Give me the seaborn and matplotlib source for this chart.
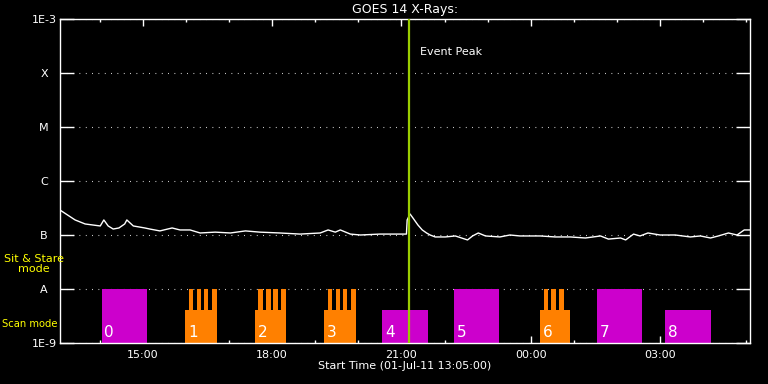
import pandas as pd
import numpy as np
import matplotlib
matplotlib.use("Agg")
import matplotlib.pyplot as plt
import matplotlib.dates as mdates
import seaborn as sns

# GOES 14 long channel flux (W/m^2)
goes_time = ["13:05", "13:26", "13:40", "13:51", "14:01", "14:06", "14:12", "14:19", "14:27",
             "14:35", "14:38", "14:47", "15:03", "15:10", "15:24", "15:41", "15:52", "16:06",
             "16:20", "16:41", "17:02", "17:23", "17:43", "18:11", "18:39", "19:07", "19:18",
             "19:28", "19:35", "19:49", "20:03", "20:30", "20:58", "21:07", "21:08", "21:12",
             "21:16", "21:23", "21:29", "21:35", "21:40", "21:47", "22:01", "22:15", "22:32",
             "22:39", "22:47", "22:57", "23:17", "23:31", "23:45", "23:59", "00:13", "00:34",
             "00:55", "01:16", "01:37", "01:48", "02:05", "02:12", "02:23", "02:32", "02:43",
             "03:00", "03:21", "03:42", "03:56", "04:10", "04:21", "04:35", "04:47", "04:57",
             "05:05"]
goes_flux_e7 = [2.9, 1.9, 1.6, 1.53, 1.47, 1.9, 1.47, 1.29, 1.35,
                1.6, 1.9, 1.47, 1.35, 1.29, 1.19, 1.35, 1.24, 1.24,
                1.09, 1.13, 1.09, 1.19, 1.13, 1.09, 1.04, 1.09, 1.24,
                1.13, 1.24, 1.04, 1.0, 1.04, 1.04, 1.04, 1.9, 2.45,
                2.07, 1.53, 1.24, 1.09, 1.0, 0.92, 0.92, 0.96, 0.81,
                0.96, 1.09, 0.96, 0.92, 1.0, 0.96, 0.96, 0.96, 0.92,
                0.92, 0.88, 0.96, 0.84, 0.88, 0.81, 1.04, 0.96, 1.09,
                1.0, 1.0, 0.92, 0.96, 0.88, 0.96, 1.09, 1.0, 1.24,
                1.24]

# observation blocks
block_start = ["14:03", "15:59", "17:36", "19:12", "20:33", "22:13", "00:13", "01:32", "03:07"]
block_end = ["15:06", "16:43", "18:20", "19:57", "21:37", "23:16", "00:55", "02:35", "04:11"]
block_top = [1e-8, 4.1e-9, 4.1e-9, 4.1e-9, 4.1e-9, 1e-8, 4.1e-9, 1e-8, 4.1e-9]
block_kind = ["magenta", "orange", "orange", "orange", "magenta", "magenta", "orange", "magenta", "magenta"]

# sit & stare slots inside the orange blocks
prong_start = ["16:05", "16:15", "16:25", "16:36",
               "17:41", "17:52", "18:02", "18:13",
               "19:18", "19:29", "19:39", "19:50",
               "00:19", "00:28", "00:39"]
prong_end = ["16:10", "16:21", "16:31", "16:43",
             "17:47", "17:58", "18:08", "18:20",
             "19:24", "19:35", "19:45", "19:57",
             "00:24", "00:35", "00:46"]

start_time = pd.Timestamp("2011-07-01 13:05")
end_time = pd.Timestamp("2011-07-02 05:05")
peak_time = "21:11"

colors = {"magenta": "#cc00cc", "orange": "#ff8000"}


def to_ts(hhmm):
    t = pd.Timestamp("2011-07-01 " + hhmm)
    if t.hour < 12:
        t += pd.Timedelta(days=1)
    return t


df = pd.DataFrame({"time": [to_ts(t) for t in goes_time],
                   "flux": np.array(goes_flux_e7) * 1e-7})

sns.set_style("dark")
plt.rcParams["font.family"] = ["DejaVu Sans"]

fig = plt.figure(figsize=(7.68, 3.84), dpi=100, facecolor="black")
ax = fig.add_axes([60 / 768, 41 / 384, 690 / 768, 324 / 384])
ax.set_facecolor("black")
ax.set_yscale("log")
ax.set_ylim(1e-9, 1e-3)
ax.set_xlim(start_time, end_time)

# blocks
for i, (s, e, top, kind) in enumerate(zip(block_start, block_end, block_top, block_kind)):
    x0 = mdates.date2num(to_ts(s))
    x1 = mdates.date2num(to_ts(e))
    ax.bar(x0, top - 1e-9, width=x1 - x0, bottom=1e-9, align="edge",
           color=colors[kind], linewidth=0, zorder=2)
    ax.annotate(str(i), (x0, 1.55e-9), xytext=(2, 0), textcoords="offset points",
                color="white", fontsize=11, va="center", ha="left", zorder=5)

for s, e in zip(prong_start, prong_end):
    x0 = mdates.date2num(to_ts(s))
    x1 = mdates.date2num(to_ts(e))
    ax.bar(x0, 1e-8 - 1e-9, width=x1 - x0, bottom=1e-9, align="edge",
           color=colors["orange"], linewidth=0, zorder=2)

sns.lineplot(data=df, x="time", y="flux", color="white", linewidth=1,
             estimator=None, ax=ax, zorder=3)

# event peak
ax.axvline(to_ts(peak_time), color="#9acd00", linewidth=1.6, zorder=4)
ax.annotate("Event Peak", (to_ts(peak_time), 1e-3), xytext=(8, -24),
            textcoords="offset points", color="white", fontsize=8, va="center")

# axes styling
for sp in ax.spines.values():
    sp.set_color("white")
    sp.set_linewidth(1)
    sp.set_visible(True)

yt = [1e-9, 1e-8, 1e-7, 1e-6, 1e-5, 1e-4, 1e-3]
ax.set_yticks(yt, ["1E-9", "A", "B", "C", "M", "X", "1E-3"])
ax.yaxis.set_minor_locator(matplotlib.ticker.NullLocator())
ax.tick_params(axis="y", which="major", direction="in", length=10, width=1,
               colors="white", left=True, right=True, pad=11.5, labelsize=8)
for lbl in ax.get_yticklabels():
    lbl.set_horizontalalignment("center")

ax.xaxis.set_major_locator(mdates.HourLocator(byhour=[0, 3, 6, 9, 12, 15, 18, 21]))
ax.xaxis.set_minor_locator(mdates.HourLocator())
ax.xaxis.set_major_formatter(mdates.DateFormatter("%H:%M"))
ax.tick_params(axis="x", which="major", direction="in", length=5, width=1,
               colors="white", top=True, bottom=True, pad=5, labelsize=8)
ax.tick_params(axis="x", which="minor", direction="in", length=2.5, width=1,
               colors="white", top=True, bottom=True)

ax.grid(False)
ax.yaxis.grid(True, which="major", color="white", linestyle=(0, (0.7, 5)), linewidth=0.8)
ax.set_axisbelow(True)

ax.set_xlabel("Start Time (01-Jul-11 13:05:00)", color="white", fontsize=8, labelpad=1)
ax.set_ylabel("")
ax.set_title("GOES 14 X-Rays:", color="white", fontsize=9, pad=4)

# mode labels
fig.text(34 / 768, 1 - 264 / 384, "Sit & Stare\nmode", color="yellow", fontsize=8,
         ha="center", va="center", linespacing=1.0)
fig.text(2 / 768, 1 - 324 / 384, "Scan mode", color="yellow", fontsize=7.2,
         ha="left", va="center")

fig.savefig("out.png", dpi=100, facecolor="black")
